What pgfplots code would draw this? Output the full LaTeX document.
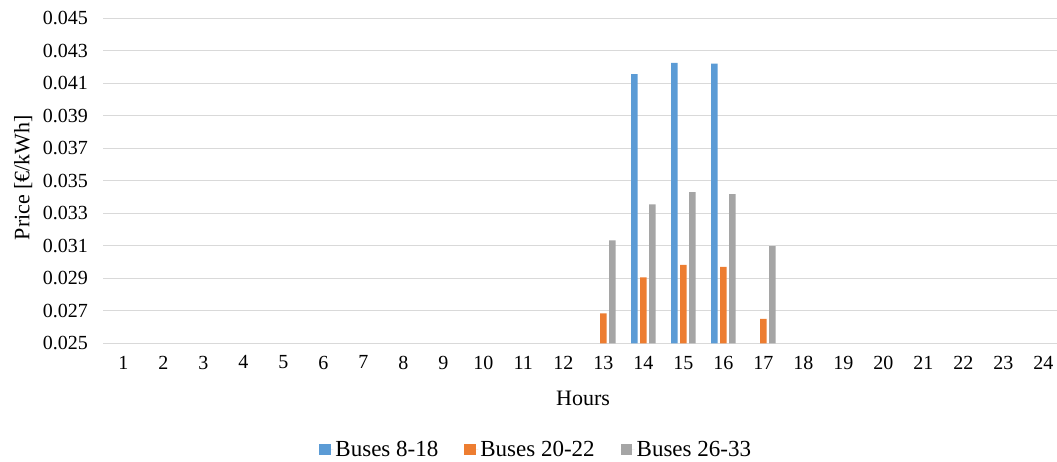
\documentclass[border=0pt]{standalone}
\usepackage{pgfplots}
\pgfplotsset{compat=1.18}
\usepackage{fontspec}
\setmainfont{Liberation Serif}
\definecolor{cblue}{HTML}{5B9BD5}
\definecolor{corange}{HTML}{ED7D31}
\definecolor{cgray}{HTML}{A5A5A5}
\definecolor{gridgray}{HTML}{D9D9D9}
\begin{document}
\begin{tikzpicture}[x=1pt,y=1pt]
\useasboundingbox (0,0) rectangle (1057,462);
\begin{axis}[
  at={(103.3pt,118.7pt)}, anchor=south west,
  scale only axis, width=953.7pt, height=325pt,
  xmin=0.5, xmax=24.34, ymin=0.025, ymax=0.045,
  ybar=2.3pt, bar width=6.7pt,
  xtick={1,2,3,4,5,6,7,8,9,10,11,12,13,14,15,16,17,18,19,20,21,22,23,24},
  ytick={0.025,0.027,0.029,0.031,0.033,0.035,0.037,0.039,0.041,0.043,0.045},
  axis line style={draw=none},
  ymajorgrids, grid style={draw=gridgray, line width=0.9pt},
  major tick length=0pt, tick style={draw=none},
  /pgf/number format/assume math mode=true,
  yticklabel style={/pgf/number format/.cd, fixed, fixed zerofill, precision=3, /tikz/.cd,
     font=\fontsize{20}{24}\selectfont, xshift=-12pt},
  xticklabel style={font=\fontsize{20}{24}\selectfont, yshift=-9pt},
  scaled y ticks=false,
  ylabel={Price [€/kWh]},
  ylabel style={at={(axis description cs:-0.084,0.51)}, anchor=center, font=\fontsize{22}{26}\selectfont},
  xlabel={Hours},
  xlabel style={at={(axis description cs:0.503,-0.17)}, anchor=center, font=\fontsize{22}{26}\selectfont},
  legend style={at={(axis description cs:0.454,-0.328)}, anchor=center, draw=none,
     font=\fontsize{23}{27}\selectfont, legend columns=-1,
     /tikz/every even column/.append style={column sep=24pt}},
  legend image code/.code={\fill[#1] (0pt,-5.5pt) rectangle (11.5pt,6pt); \path (0pt,0pt) -- (14pt,0pt);},
]
\addplot[fill=cblue, draw=none] coordinates {(14,0.04156) (15,0.04225) (16,0.04221)};
\addplot[fill=corange, draw=none] coordinates {(13,0.02684) (14,0.02906) (15,0.02982) (16,0.02971) (17,0.02650)};
\addplot[fill=cgray, draw=none] coordinates {(13,0.03133) (14,0.03355) (15,0.03430) (16,0.03418) (17,0.03098)};
\legend{Buses 8-18, Buses 20-22, Buses 26-33}
\end{axis}
\end{tikzpicture}
\end{document}
